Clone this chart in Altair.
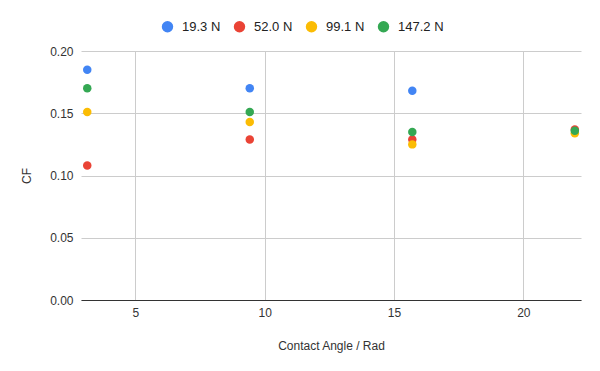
import altair as alt
import pandas as pd

series = ["19.3 N", "52.0 N", "99.1 N", "147.2 N"]
colors = ["#4285F4", "#EA4335", "#FBBC04", "#34A853"]

angle_19 = [3.1416, 9.4248, 15.708]
cf_19 = [0.185, 0.170, 0.168]
angle_52 = [3.1416, 9.4248, 15.708, 21.991]
cf_52 = [0.108, 0.129, 0.129, 0.137]
angle_99 = [3.1416, 9.4248, 15.708, 21.991]
cf_99 = [0.151, 0.143, 0.125, 0.134]
angle_147 = [3.1416, 9.4248, 15.708, 21.991]
cf_147 = [0.170, 0.151, 0.135, 0.136]

rows = []
for order, (name, xs, ys) in enumerate([
    ("19.3 N", angle_19, cf_19),
    ("52.0 N", angle_52, cf_52),
    ("99.1 N", angle_99, cf_99),
    ("147.2 N", angle_147, cf_147),
]):
    for x, y in zip(xs, ys):
        rows.append({"angle": x, "cf": y, "series": name, "ord": order})
df = pd.DataFrame(rows)

FONT = "Liberation Sans"

chart = alt.Chart(df).mark_circle(size=72, opacity=1).encode(
    x=alt.X("angle:Q", title="Contact Angle / Rad",
            scale=alt.Scale(domain=[2.9, 22.23], nice=False, zero=False),
            axis=alt.Axis(values=[5, 10, 15, 20], format="d", grid=True, ticks=False,
                          domain=True, domainColor="#333333", labelPadding=7,
                          titlePadding=22)),
    y=alt.Y("cf:Q", title="CF",
            scale=alt.Scale(domain=[0, 0.2], nice=False),
            axis=alt.Axis(values=[0, 0.05, 0.1, 0.15, 0.2], format=".2f", ticks=False,
                          domain=False, labelPadding=8, titlePadding=16)),
    color=alt.Color("series:N", title=None,
                    scale=alt.Scale(domain=series, range=colors),
                    legend=alt.Legend(orient="none", direction="horizontal",
                                      legendX=80, legendY=-31, symbolType="circle",
                                      symbolSize=130, labelOffset=8, columnPadding=12,
                                      labelFontSize=13, labelColor="#222222",
                                      labelFont=FONT)),
    order=alt.Order("ord:Q"),
).properties(
    width=500, height=249,
    autosize=alt.AutoSizeParams(type="none"),
    padding={"left": 73, "top": 43, "right": 11, "bottom": 55},
).configure_view(stroke=None).configure_axis(
    gridColor="#cccccc", labelFont=FONT, titleFont=FONT,
    labelFontSize=12, titleFontSize=12, labelColor="#333333", titleColor="#333333",
    titleFontWeight="normal",
)

chart.save("out.html", embed_options={"renderer": "svg", "actions": False})
